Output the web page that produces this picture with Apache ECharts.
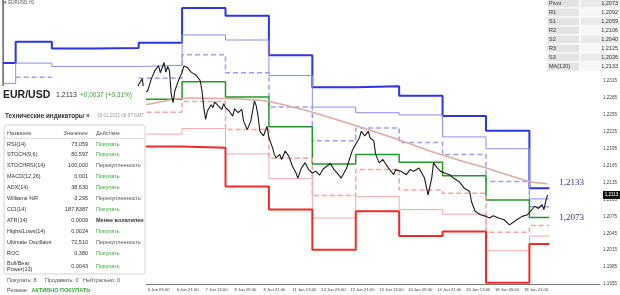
<!DOCTYPE html>
<html><head><meta charset="utf-8">
<script src="https://cdn.jsdelivr.net/npm/echarts@6.0.0/dist/echarts.min.js"></script>
<style>html,body{margin:0;padding:0;background:#fff}#c{width:620px;height:295px}</style>
</head><body><div id="c"></div>
<script>
// trading days shown on the H1 chart: [day, first hour, last hour]
const days = [['30 Dec',17,23],['31 Dec',0,19],['4 Jan',0,23],['5 Jan',0,23],['6 Jan',0,23],['7 Jan',0,23],
  ['8 Jan',0,23],['11 Jan',0,23],['12 Jan',0,23],['13 Jan',0,23],['14 Jan',0,23],['15 Jan',0,23],['18 Jan',0,23],['19 Jan',0,10]];
// daily classic pivot levels (one value per day above)
const levelR3 = [1.2347,1.2385,1.2373,1.2374,1.2383,1.2445,1.2431,1.2361,1.2304,1.2306,1.2289,1.2253,1.2227,1.2125];
const levelR2 = [1.2311,1.2347,1.2341,1.2341,1.2343,1.2397,1.2388,1.2325,1.2269,1.2259,1.2255,1.2216,1.2195,1.2106];
const levelR1 = [null,1.2322,null,null,1.2320,1.2362,1.2330,1.2269,1.2209,1.2232,1.2206,1.2185,1.2137,1.2092];
const levelP  = [null,null,null,null,1.2283,1.2314,1.2287,1.2234,1.2168,1.2185,1.2171,1.2147,1.2104,1.2073];
const levelS1 = [null,null,null,null,1.2260,1.2279,1.2229,1.2178,1.2112,1.2158,1.2122,1.2116,1.2047,1.2059];
const levelS2 = [null,null,null,null,1.2221,1.2231,1.2186,1.2142,1.2072,1.2110,1.2087,1.2079,1.2014,1.2040];
const levelS3 = [null,null,null,null,1.2199,1.2197,1.2128,1.2087,1.2016,1.2084,1.2040,1.2048,1.1957,1.2026];
// MA(120) read points: bar index / value
const maIdx = [0,40,80,93,104,122,137,147,164,181,199,218,236,254,267,291,301];
const maVal = [1.2235,1.2259,1.2274,1.2282,1.2285,1.2284,1.2282,1.2279,1.2266,1.2250,1.2232,1.2212,1.2191,1.2173,1.2161,1.2137,1.2133];
// price path read points: bar index / price
const priceIdx = [73,75,77,78,80,82,84,86,87,89,90,91,92,93,94,95,97,99,100,102,104,107,109,110,111,112,113,115,116,117,119,121,122,123,125,127,128,130,132,133,135,137,139,140,141,142,144,146,147,149,150,151,153,154,156,158,160,162,163,165,167,169,171,173,175,177,178,181,183,185,187,190,193,195,197,198,200,202,203,205,206,208,210,213,216,217,220,223,225,227,230,233,235,237,238,240,242,244,247,249,252,255,258,259,261,264,267,269,271,274,277,280,281,284,287,290,291,294,296,298,299,300,301];
const priceVal = [1.2287,1.2309,1.2319,1.2294,1.2298,1.2319,1.2334,1.2342,1.2330,1.2348,1.2331,1.2341,1.2334,1.2292,1.2277,1.2298,1.2316,1.2331,1.2342,1.2339,1.2331,1.2325,1.2316,1.2298,1.2268,1.2247,1.2262,1.2273,1.2268,1.2278,1.2271,1.2265,1.2275,1.2268,1.2262,1.2253,1.2266,1.2259,1.2265,1.2244,1.2229,1.2244,1.2280,1.2271,1.2253,1.2226,1.2218,1.2235,1.2214,1.2197,1.2185,1.2179,1.2185,1.2176,1.2191,1.2182,1.2164,1.2152,1.2143,1.2161,1.2170,1.2158,1.2152,1.2155,1.2148,1.2159,1.2158,1.2169,1.2158,1.2151,1.2143,1.2161,1.2191,1.2203,1.2214,1.2226,1.2218,1.2226,1.2214,1.2209,1.2185,1.2170,1.2176,1.2161,1.2149,1.2158,1.2155,1.2149,1.2158,1.2155,1.2161,1.2143,1.2113,1.2143,1.2170,1.2161,1.2155,1.2152,1.2149,1.2143,1.2137,1.2125,1.2119,1.2101,1.2084,1.2078,1.2075,1.2072,1.2076,1.2072,1.2069,1.2060,1.2057,1.2069,1.2075,1.2078,1.2081,1.2093,1.2089,1.2096,1.2087,1.2101,1.2113];
// right axis ticks
const yMin = 1.1955, yMax = 1.2459, yStep = 0.0015;
// panels
const pivotTable = [['Pivot','1,2073'],['R1','1,2092'],['S1','1,2059'],['R2','1,2106'],['S2','1,2040'],['R3','1,2125'],['S3','1,2026'],['MA(120)','1,2133']];
const indRows = [['RSI(14)','73,059','Покупать'],['STOCH(9,6)','80,597','Покупать'],['STOCHRSI(14)','100,000','Перекупленность'],
  ['MACD(12,26)','0,001','Покупать'],['ADX(14)','38,630','Покупать'],['Williams %R','-3,295','Перекупленность'],
  ['CCI(14)','187,8387','Покупать'],['ATR(14)','0,0009','Менее волатилен'],['Highs/Lows(14)','0,0024','Покупать'],
  ['Ultimate Oscillator','72,510','Перекупленность'],['ROC','0,380','Покупать'],['Bull/Bear\nPower(13)','0,0043','Покупать']];

const hourLabels = [], dayStart = [];
days.forEach(([d,h0,h1]) => { dayStart.push(hourLabels.length);
  for (let h=h0; h<=h1; h++) hourLabels.push(d+' '+String(h).padStart(2,'0')+':00'); });
const dayEnd = dayStart.slice(1).concat([hourLabels.length]);
function stepData(levels){ const out=[]; levels.forEach((v,i)=>{
  if (v==null){ out.push([dayStart[i],'-']); return; }
  out.push([dayStart[i],v]); out.push([dayEnd[i],v]); }); return out; }
const fmt = v => v.toFixed(4).replace('.',',');
const FF = '"Liberation Sans", Arial, sans-serif';
function ln(data,color,width,type,z){ return {type:'line',data,symbol:'none',silent:true,animation:false,z,
  lineStyle:{color,width,type:type||'solid'}}; }

const chart = echarts.init(document.getElementById('c'), null, {renderer:'canvas'});
chart.setOption({
  animation:false, backgroundColor:'#fff',
  grid:{left:0,right:18,top:0,bottom:11},
  xAxis:{type:'value',min:0,max:330,interval:16,
    axisLine:{show:true,lineStyle:{color:'#777',width:1}},axisTick:{show:false},splitLine:{show:false},
    axisLabel:{fontSize:4.2,color:'#444',margin:4,align:'left',fontFamily:FF,
      formatter:v=>(v>=80&&v<=288)?hourLabels[v]:''}},
  yAxis:{type:'value',position:'right',min:yMin,max:yMax,interval:yStep,
    axisLine:{show:true,lineStyle:{color:'#777',width:1}},axisTick:{show:false},splitLine:{show:false},
    axisLabel:{fontSize:4.6,color:'#444',margin:3,fontFamily:FF,
      formatter:v=>{const k=Math.round((v-yMin)/yStep); return (k%2===0 && v<yMax-0.0005)?fmt(v):'';}}},
  series:[
    ln(stepData(levelR3),'#2a35e8',2,'solid',2),
    ln(stepData(levelR2),'#8a8ff2',1,'solid',2),
    ln(stepData(levelR1),'#9aa0f4',1.5,[5,3],2),
    ln(stepData(levelP),'#23962a',1.5,'solid',2),
    ln(stepData(levelS1),'#f6a3a3',1.5,[5,3],2),
    ln(stepData(levelS2),'#f7aaaa',1,'solid',2),
    ln(stepData(levelS3),'#f22a2a',2,'solid',2),
    Object.assign(ln(maIdx.map((x,i)=>[x,maVal[i]]),'#dcaaa6',1.5,'solid',3),{smooth:0.3}),
    ln(priceIdx.map((x,i)=>[x,priceVal[i]]),'#1b1b1b',1.1,'solid',4)
  ]
});

function T(text,x,y,size,fill,o){ o=o||{}; return {type:'text',x,y,z:101,silent:true,
  style:{text,fill,fontSize:size,fontFamily:o.ff||FF,fontWeight:o.w||'normal',align:o.a||'left',verticalAlign:'middle',lineHeight:o.lh||size+1}}; }
function R(x,y,w,h,fill,stroke,z){ return {type:'rect',z:z||100,silent:true,shape:{x,y,width:w,height:h,r:0},style:{fill:fill||'none',stroke:stroke||null,lineWidth:1}}; }

const g = [];
// top-left caption
g.push({type:'line',z:100,silent:true,shape:{x1:2.5,y1:0,x2:2.5,y2:87},style:{stroke:'#999',lineWidth:1}});
g.push(T('▾ EURUSD,H1',4,3,4.5,'#555'));
// left panel
g.push(R(0,86,146,209,'#fff'));
g.push(T('EUR/USD',3,95,10.5,'#222',{w:'bold'}));
g.push(T(fmt(priceVal[priceVal.length-1]),56,95.5,7,'#333'));
g.push(T('+0,0037 (+0,31%)',80,95.5,6.5,'#3a9d3a'));
g.push(T('Технические индикаторы »',5,116,6.3,'#333',{w:'bold'}));
g.push(T('19.01.2021 06:07 GMT',97,116,4.6,'#9a9a9a'));
g.push(Object.assign(R(4,125,141,149,'none','#d4d4d4',100),{shape:{x:4,y:125,width:141,height:149,r:2}}));
g.push({type:'line',z:100,silent:true,shape:{x1:4,y1:138.5,x2:145,y2:138.5},style:{stroke:'#e2e2e2',lineWidth:1}});
g.push(T('Название',7,133,5.5,'#555'));
g.push(T('Значение',88,133,5.5,'#555',{a:'right'}));
g.push(T('Действие',96,133,5.5,'#555'));
indRows.forEach((r,i)=>{
  const y = i<11 ? 144+i*10.9 : 266;
  const act = r[2]==='Покупать' ? '#3aa53a' : (r[2]==='Перекупленность' ? '#555' : '#333');
  g.push(T(r[0],7,y,5.5,'#333',{lh:6}));
  g.push(T(r[1],88,y,5.5,'#333',{a:'right'}));
  g.push(T(r[2],96,y,5.5,act,{w:r[2]==='Менее волатилен'?'bold':'normal'}));
});
g.push(T('Покупать: 8',7,280.5,5.5,'#555'));
g.push(T('Продавать: 0',45,280.5,5.5,'#555'));
g.push(T('Нейтрально: 0',83,280.5,5.5,'#555'));
g.push(T('Резюме:',7,290,5.5,'#555'));
g.push(T('АКТИВНО ПОКУПАТЬ',31.5,290,5.5,'#3aa53a',{w:'bold'}));
// top-right pivot table
pivotTable.forEach((r,i)=>{
  const top = -1+i*9;
  g.push(R(547,top,33,9,'#e3e3e3','#fff'));
  g.push(R(580,top,40,9,i%2===0?'#eaeaea':'#f6f6f6','#fff'));
  g.push(T(r[0],549,top+4.5,5.5,'#333'));
  g.push(T(r[1],618,top+4.5,5.5,'#333',{a:'right'}));
});
// price box + level labels
const lastPrice = priceVal[priceVal.length-1];
const py = chart.convertToPixel({yAxisIndex:0}, lastPrice);
g.push(R(603,py-4,17,8,'#111',null,102));
g.push(Object.assign(T(fmt(lastPrice),611.5,py,4.6,'#fff',{a:'center'}),{z:103}));
const xl = chart.convertToPixel({xAxisIndex:0}, 307.5);
g.push(T(fmt(maVal[maVal.length-1]),xl,chart.convertToPixel({yAxisIndex:0},maVal[maVal.length-1])-1,9,'#26348a',{ff:'"Liberation Serif", serif'}));
g.push(T(fmt(levelP[levelP.length-1]),xl,chart.convertToPixel({yAxisIndex:0},levelP[levelP.length-1]),9,'#26348a',{ff:'"Liberation Serif", serif'}));
chart.setOption({graphic:g});
</script></body></html>
